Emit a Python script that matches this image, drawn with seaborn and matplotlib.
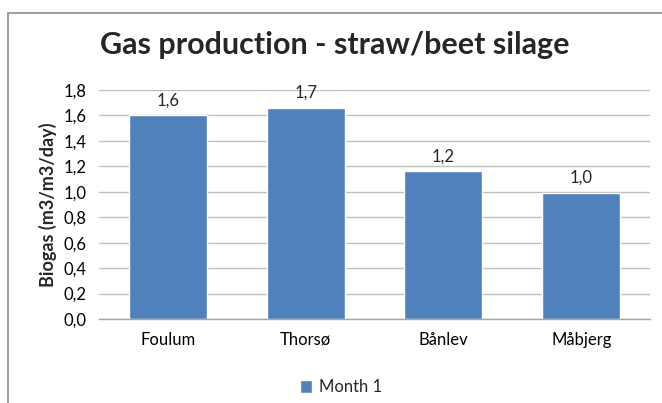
import matplotlib
matplotlib.use("Agg")
import matplotlib.pyplot as plt
from matplotlib.patches import Rectangle
import seaborn as sns
import pandas as pd

# Biogas yield per plant
plants = ["Foulum", "Thorsø", "Bånlev", "Måbjerg"]
biogas = [1.60, 1.66, 1.16, 0.99]
series_name = "Month 1"
y_ticks = [0.0, 0.2, 0.4, 0.6, 0.8, 1.0, 1.2, 1.4, 1.6, 1.8]

df = pd.DataFrame({"plant": plants, "biogas": biogas})

sns.set_theme(style="white")
plt.rcParams["font.family"] = ["Lato", "DejaVu Sans"]


def comma(v):
    return f"{v:.1f}".replace(".", ",")


fig = plt.figure(figsize=(6.62, 4.03), dpi=100)
ax = fig.add_axes([0.1495, 0.2084, 0.8325, 0.5683])

bar_color = "#4F81BD"
sns.barplot(data=df, x="plant", y="biogas", color=bar_color, width=0.566,
            saturation=1, label=series_name, ax=ax)

ax.set_ylim(0, 1.8)
ax.set_yticks(y_ticks)
ax.set_yticklabels([comma(v) for v in y_ticks])
ax.yaxis.grid(True, color="#BFBFBF", linewidth=1)
ax.set_axisbelow(True)
for side in ["left", "right", "top"]:
    ax.spines[side].set_visible(False)
ax.spines["bottom"].set_color("#A6A6A6")
ax.spines["bottom"].set_linewidth(1)
ax.tick_params(axis="both", length=0, labelsize=12, colors="#000000")
ax.tick_params(axis="x", pad=9)
ax.tick_params(axis="y", pad=9)
ax.set_xlabel("")
ax.set_ylabel("Biogas (m3/m3/day)", fontsize=13, fontweight="bold", labelpad=5)

# Value labels above each bar
for container in ax.containers:
    ax.bar_label(container, labels=[comma(v) for v in biogas],
                 padding=5, fontsize=12)

fig.text(0.506, 0.888, "Gas production - straw/beet silage", ha="center", va="center",
         fontsize=22, fontweight="bold")

ax.legend(loc="center", bbox_to_anchor=(0.439, -0.298), frameon=False, fontsize=12,
          handlelength=0.75, handleheight=0.75, handletextpad=0.4)

# Outer chart frame
fig.add_artist(Rectangle((8 / 662, -0.5), 2.0, 1.5 - 13 / 403, transform=fig.transFigure,
                         fill=False, edgecolor="#8C8C8C", linewidth=1.2))

fig.savefig("out.png", dpi=100)
